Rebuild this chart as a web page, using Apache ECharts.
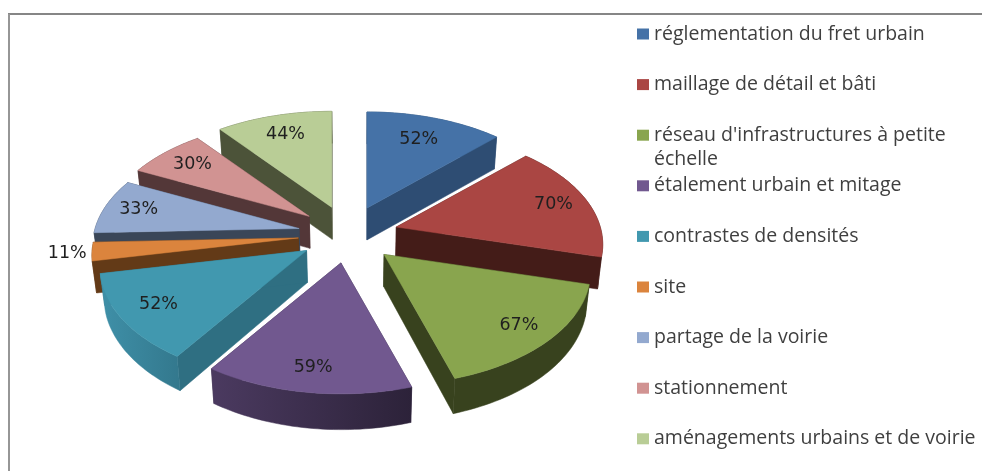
<!DOCTYPE html>
<html><head><meta charset="utf-8">
<style>html,body{margin:0;padding:0;background:#fff}#c{width:982px;height:471px}</style>
<script src="https://cdn.jsdelivr.net/npm/echarts@6/dist/echarts.min.js"></script>
</head><body><div id="c"></div>
<script>
const categories = ["réglementation du fret urbain","maillage de détail et bâti","réseau d'infrastructures à petite échelle","étalement urbain et mitage","contrastes de densités","site","partage de la voirie","stationnement","aménagements urbains et de voirie"];
const values = [52,70,67,59,52,11,33,30,44];
const topColors = ["#4572a7","#aa4643","#89a54e","#71588f","#4198af","#db843d","#93a9cf","#d19392","#b9cd96"];
const cutColors = ["#2e4d73","#441c18","#38421e","#3a2d4b","#2f6f82","#633a17","#3a4658","#533738","#4c5339"];
const rimLeft   = ["#2e4d73","#441c18","#38421e","#4b3a60","#3f90a8","#633a17","#3a4658","#533738","#4c5339"];
const rimRight  = ["#2e4d73","#441c18","#38421e","#2c2239","#33788d","#633a17","#3a4658","#533738","#4c5339"];
const labelRadius = [0.76,0.83,0.82,0.81,0.8,1.12,0.83,0.81,0.8];

const view = {cx:348, cy:234.5, ex:50, ey:28.7, a:204, b:110.8, p:0.154, depth:32, conv:0.0166, vx:359};
const total = values.reduce((s,v)=>s+v,0);
const startOf = i => values.slice(0,i).reduce((s,v)=>s+v,0)/total*2*Math.PI;

function local(t){ // homography of the tilted disc, relative to the slice apex
  const u=Math.sin(t), v=-Math.cos(t), w=1-view.p*v;
  return [view.a*u/w, view.b*v/w];
}
function renderSlice(params, api){
  const i=api.value(1), val=api.value(0);
  const t0=startOf(i), t1=t0+val/total*2*Math.PI, tm=(t0+t1)/2;
  const ax=view.cx+view.ex*Math.sin(tm), ay=view.cy-view.ey*Math.cos(tm);
  const S=p=>api.coord(p);
  const top=t=>{const l=local(t);return [ax+l[0],ay+l[1]];};
  const low=p=>[p[0]+view.conv*(view.vx-p[0]),p[1]+view.depth+Math.max(0,p[1]-300)*0.04];
  const arc=[];
  for(let k=0;k<=40;k++) arc.push(top(t0+(t1-t0)*k/40));
  const apex=[ax,ay];
  const poly=(pts,fill)=>({type:'polygon',shape:{points:pts.map(S)},style:{fill:fill,stroke:fill,lineWidth:0.5},silent:true});
  const quad=p=>[apex,p,low(p),low(apex)];
  const grad=new echarts.graphic.LinearGradient(0,0,1,0,[{offset:0,color:rimLeft[i]},{offset:1,color:rimRight[i]}]);
  const children=[
    poly(quad(arc[0]),cutColors[i]),
    poly(quad(arc[40]),cutColors[i]),
    poly(arc.concat(arc.slice().reverse().map(low)),grad),
    poly([apex].concat(arc),topColors[i])
  ];
  const m=top(tm), f=labelRadius[i];
  const c=S([ax+(m[0]-ax)*f, ay+(m[1]-ay)*f]);
  children.push({type:'text',silent:true,style:{text:val+'%',x:c[0],y:c[1],align:'center',verticalAlign:'middle',fontFamily:'DejaVu Sans',fontSize:17.5,fill:'#1f1f1f'},z2:10});
  return {type:'group',children:children};
}
const rank=values.map((v,i)=>-Math.cos(startOf(i)+v/total*Math.PI));
const series=categories.map((name,i)=>({
  type:'custom',name:name,coordinateSystem:'cartesian2d',
  data:[[values[i],i]],encode:{x:0,y:1},clip:false,silent:true,
  itemStyle:{color:topColors[i]},renderItem:renderSlice,
  z:Math.round((rank[i]+1)*20)+2,animation:false
}));
const legend=categories.map((name,i)=>{
  const wrapped=name.indexOf(' échelle')>0;
  const lh=24, cyRow=34+i*50.6;
  return {data:[name],orient:'vertical',left:637,top:cyRow-(wrapped?1.5:0.5)*lh,padding:0,
    itemWidth:12,itemHeight:11,icon:'rect',selectedMode:false,
    formatter:n=>wrapped?'\n'+n.replace(' échelle','\néchelle'):n,
    textStyle:{fontFamily:'Open Sans',fontSize:19.5,color:'#3f3f3f',lineHeight:lh}};
});
const chart=echarts.init(document.getElementById('c'),null,{renderer:'canvas'});
chart.setOption({
  animation:false,backgroundColor:'#fff',
  grid:{left:0,right:0,top:0,bottom:0},
  xAxis:{type:'value',min:0,max:982,show:false},
  yAxis:{type:'value',min:0,max:471,inverse:true,show:false},
  legend:legend,series:series,
  graphic:[
    {type:'line',shape:{x1:8,y1:14,x2:982,y2:14},style:{stroke:'#868686',lineWidth:2}},
    {type:'line',shape:{x1:9,y1:14,x2:9,y2:471},style:{stroke:'#969696',lineWidth:2}}
  ]
});
</script></body></html>
